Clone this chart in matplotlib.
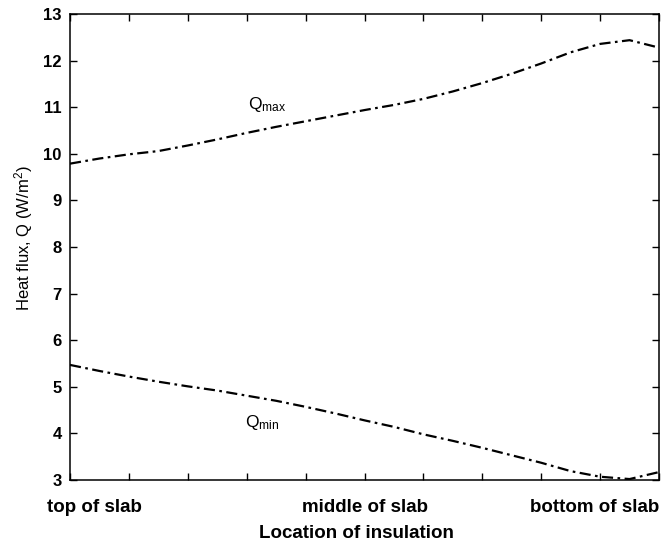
import matplotlib
matplotlib.use("Agg")
import matplotlib.pyplot as plt
import matplotlib.transforms as mtransforms
import numpy as np

plt.rcParams['font.family'] = ['Liberation Sans', 'DejaVu Sans']
plt.rcParams['mathtext.fontset'] = 'custom'
plt.rcParams['mathtext.rm'] = 'Liberation Sans'
plt.rcParams['mathtext.it'] = 'Liberation Sans'

# position along the slab, 0 = top, 1 = bottom
location = [0.00, 0.05, 0.10, 0.15, 0.20, 0.25, 0.30, 0.35, 0.40, 0.45, 0.50,
            0.55, 0.60, 0.65, 0.70, 0.75, 0.80, 0.85, 0.90, 0.95, 1.00]
q_max = [9.79, 9.90, 9.99, 10.06, 10.18, 10.31, 10.45, 10.58, 10.70, 10.82, 10.94,
         11.05, 11.18, 11.34, 11.52, 11.72, 11.94, 12.18, 12.36, 12.44, 12.28]
q_min = [5.47, 5.34, 5.22, 5.11, 5.01, 4.92, 4.81, 4.70, 4.57, 4.43, 4.28,
         4.14, 3.98, 3.84, 3.69, 3.53, 3.37, 3.19, 3.07, 3.02, 3.17]

tick_pos = [0.042, 0.5, 1.0]
tick_labels = ['top of slab', 'middle of slab', 'bottom of slab']

fig = plt.figure(figsize=(6.63, 5.42), dpi=100)
ax = fig.add_axes([0.1056, 0.1144, 0.8884, 0.8596])

dash = (0, (5, 2, 1.2, 2))
ax.plot(location, q_max, color='black', lw=1.6, linestyle=dash)
ax.plot(location, q_min, color='black', lw=1.6, linestyle=dash)

ax.text(0.302, 11.07, r'Q$_{\mathrm{max}}$', fontsize=12.5, va='center', ha='left')
ax.text(0.297, 4.24, r'Q$_{\mathrm{min}}$', fontsize=12.5, va='center', ha='left')

ax.set_xlim(0, 1)
ax.set_ylim(3, 13)
ax.set_yticks(np.arange(3, 14, 1))
ax.set_xticks(np.arange(0, 1.01, 0.1))
ax.set_xticklabels([''] * 11)

# x in axes fraction, y in figure fraction
trans = mtransforms.blended_transform_factory(ax.transAxes, fig.transFigure)
for p, lab, ha in zip(tick_pos, tick_labels, ['center', 'center', 'right']):
    ax.text(p, 1 - 507 / 542, lab, transform=trans, ha=ha, va='center',
            fontsize=13.5, fontweight='bold')

ax.tick_params(direction='in', length=5, width=1, top=True, right=True,
               labelsize=12, pad=6)
for lab in ax.get_yticklabels():
    lab.set_fontweight('bold')
for s in ax.spines.values():
    s.set_linewidth(1.1)

fig.text(24 / 663, 1 - 238 / 542, 'Heat flux, Q (W/m$^{2}$)', fontsize=12,
         rotation=90, ha='center', va='center')
fig.text(356 / 663, 1 - 533 / 542, 'Location of insulation', ha='center',
         va='center', fontsize=13.5, fontweight='bold')

fig.savefig('out.png', dpi=100)
